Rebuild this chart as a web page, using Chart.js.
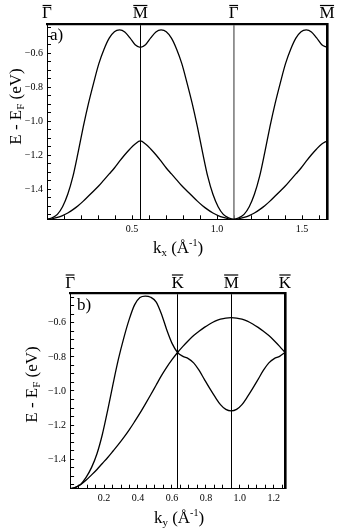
<!DOCTYPE html>
<html><head><meta charset="utf-8">
<script src="https://cdn.jsdelivr.net/npm/chart.js@4.4.1/dist/chart.umd.min.js"></script>
<style>
html,body{margin:0;padding:0;background:#fff;width:338px;height:532px;overflow:hidden}
canvas{position:absolute;left:0}
#ca{top:0}
#cb{top:266px}
</style></head><body>
<canvas id="ca" width="338" height="266"></canvas>
<canvas id="cb" width="338" height="266"></canvas>
<script>
// ---------- Panel a data (k_x, Γ-M-Γ-M) ----------
const kxA = [0,0.0305,0.061,0.0915,0.122,0.1525,0.183,0.2135,0.244,0.2745,0.305,0.3355,0.366,0.3965,0.427,0.4575,0.488,0.5185,0.549,
  0.5795,0.61,0.6405,0.671,0.7015,0.732,0.7625,0.793,0.8235,0.854,0.8845,0.915,0.9455,0.976,1.0065,1.037,1.0675,1.098,
  1.1285,1.159,1.1895,1.22,1.2505,1.281,1.3115,1.342,1.3725,1.403,1.4335,1.464,1.4945,1.525,1.5555,1.586,1.6165,1.647];
const upperA = [-1.577,-1.568,-1.548,-1.503,-1.430,-1.325,-1.183,-1.032,-0.895,-0.774,-0.661,-0.576,-0.511,-0.473,-0.463,-0.475,-0.510,-0.550,-0.565,
  -0.550,-0.510,-0.475,-0.463,-0.473,-0.511,-0.576,-0.661,-0.774,-0.895,-1.032,-1.183,-1.325,-1.430,-1.503,-1.548,-1.568,-1.577,
  -1.568,-1.548,-1.503,-1.430,-1.325,-1.183,-1.032,-0.895,-0.774,-0.661,-0.576,-0.511,-0.473,-0.463,-0.475,-0.510,-0.550,-0.565];
const lowerA = [-1.577,-1.574,-1.566,-1.555,-1.540,-1.520,-1.497,-1.470,-1.440,-1.410,-1.380,-1.345,-1.310,-1.275,-1.235,-1.197,-1.163,-1.134,-1.116,
  -1.134,-1.163,-1.197,-1.235,-1.275,-1.310,-1.345,-1.380,-1.410,-1.440,-1.470,-1.497,-1.520,-1.540,-1.555,-1.566,-1.574,-1.577,
  -1.574,-1.566,-1.555,-1.540,-1.520,-1.497,-1.470,-1.440,-1.410,-1.380,-1.345,-1.310,-1.275,-1.235,-1.197,-1.163,-1.134,-1.116];
const symPosA = [0, 0.549, 1.098, 1.647];
const symLabelsA = ['\u0393', 'M', '\u0393', 'M'];
const xTickValsA = [0.1,0.2,0.3,0.4,0.5,0.6,0.7,0.8,0.9,1.0,1.1,1.2,1.3,1.4,1.5,1.6];
const xLabelValsA = [0.5, 1.0, 1.5];

// ---------- Panel b data (k_y, Γ-K-M-K) ----------
const kyB = [0,0.0317,0.0633,0.095,0.1266,0.1583,0.1899,0.2216,0.2532,0.2849,0.3165,0.3482,0.3798,0.4115,0.4431,0.4748,0.5064,0.5381,0.5697,0.6014,0.633,
  0.6646,0.6962,0.7278,0.7594,0.791,0.8226,0.8542,0.8858,0.9174,0.949,
  0.9807,1.0124,1.0441,1.0758,1.1075,1.1392,1.1709,1.2026,1.2343,1.266];
const band1B = [-1.573,-1.565,-1.546,-1.505,-1.448,-1.368,-1.255,-1.112,-0.958,-0.812,-0.688,-0.580,-0.495,-0.452,-0.443,-0.450,-0.477,-0.548,-0.642,-0.722,-0.774,
  -0.797,-0.810,-0.835,-0.878,-0.932,-0.985,-1.035,-1.080,-1.108,-1.117,
  -1.108,-1.080,-1.035,-0.985,-0.932,-0.878,-0.835,-0.810,-0.797,-0.774];
const band2B = [-1.573,-1.565,-1.548,-1.522,-1.492,-1.460,-1.425,-1.390,-1.352,-1.313,-1.272,-1.228,-1.180,-1.130,-1.077,-1.022,-0.966,-0.910,-0.860,-0.815,-0.774,
  -0.738,-0.705,-0.675,-0.650,-0.627,-0.607,-0.590,-0.579,-0.572,-0.570,
  -0.572,-0.579,-0.590,-0.607,-0.627,-0.650,-0.675,-0.705,-0.738,-0.774];
const symPosB = [0, 0.633, 0.949, 1.266];
const symLabelsB = ['\u0393', 'K', 'M', 'K'];
const xTickValsB = [0.05,0.1,0.15,0.2,0.25,0.3,0.35,0.4,0.45,0.5,0.55,0.6,0.65,0.7,0.75,0.8,0.85,0.9,0.95,1.0,1.05,1.1,1.15,1.2,1.25];
const xLabelValsB = [0.2,0.4,0.6,0.8,1.0,1.2];

// ---------- shared energy ticks ----------
const yTickVals = [-1.55,-1.5,-1.45,-1.4,-1.35,-1.3,-1.25,-1.2,-1.15,-1.1,-1.05,-1.0,-0.95,-0.9,-0.85,-0.8,-0.75,-0.7,-0.65,-0.6,-0.55,-0.5,-0.45];
const yLabelVals = [-1.4,-1.2,-1.0,-0.8,-0.6];

const SERIF = "'Liberation Serif','Times New Roman',serif";
const SYMFONT = 17;
const near = (a,b)=>Math.abs(a-b)<1e-6;
const fmt = v => (v<0?'\u2212':'') + Math.abs(v).toFixed(1);

function drawRich(ctx, segs, cx, cy, rot){
  ctx.save();
  ctx.translate(cx, cy);
  ctx.rotate(rot);
  let w = 0;
  segs.forEach(s=>{ ctx.font = s.size+'px '+SERIF; w += ctx.measureText(s.t).width; });
  let x = -w/2;
  ctx.textAlign='left'; ctx.textBaseline='alphabetic'; ctx.fillStyle='#000';
  segs.forEach(s=>{ ctx.font = s.size+'px '+SERIF; ctx.fillText(s.t, x, s.dy); x += ctx.measureText(s.t).width; });
  ctx.restore();
}

const annot = {
  id:'annot',
  afterDraw(chart, args, o){
    const ctx = chart.ctx;
    ctx.save();
    ctx.fillStyle='#000';
    ctx.font = '17px '+SERIF;
    ctx.textAlign='left'; ctx.textBaseline='alphabetic';
    ctx.fillText(o.letter, o.letterX, o.letterY);
    drawRich(ctx, o.xTitle, o.xTitleX, o.xTitleY, 0);
    drawRich(ctx, o.yTitle, o.yTitleX, o.yTitleY, -Math.PI/2);
    // overbars on the high-symmetry point labels of the top axis
    const top = chart.scales.xTop;
    ctx.font = SYMFONT+'px '+SERIF;
    ctx.strokeStyle='#000'; ctx.lineWidth=1.2;
    top.ticks.forEach((t,i)=>{
      const x = top.getPixelForValue(t.value);
      const w = ctx.measureText(o.symLabels[i]).width;
      ctx.beginPath();
      ctx.moveTo(x - w/2 + 0.5, o.barY);
      ctx.lineTo(x + w/2 - 0.5, o.barY);
      ctx.stroke();
    });
    ctx.restore();
  }
};

function makePanel(canvas, g){
  const W = 338;
  g.annot.symLabels = g.symLabels;
  return new Chart(canvas, {
    type:'line',
    data:{datasets: g.bands.map(b=>({
      data: g.k.map((k,i)=>({x:k, y:b[i]})),
      borderColor:'#000', borderWidth:1.3, pointRadius:0, fill:false,
      cubicInterpolationMode:'monotone'
    }))},
    options:{
      responsive:false, animation:false, devicePixelRatio:1,
      layout:{padding:0},
      plugins:{legend:{display:false}, tooltip:{enabled:false}, annot:g.annot},
      scales:{
        x:{type:'linear', position:'bottom', min:0, max:g.xmax,
          afterBuildTicks:s=>{ s.ticks = g.xTicks.map(v=>({value:v})); },
          ticks:{autoSkip:false, maxRotation:0, padding:8, color:'#000', font:{family:SERIF, size:10},
            callback:v=> g.xLabels.some(l=>near(l,v)) ? v.toFixed(1) : ''},
          grid:{drawOnChartArea:false, tickLength:-4, tickColor:'#000', tickWidth:1},
          border:{color:'#000', width:1},
          afterFit:s=>{ s.height = g.H - g.B; }
        },
        y:{type:'linear', position:'left', min:g.ymin, max:g.ymax,
          afterBuildTicks:s=>{ s.ticks = yTickVals.map(v=>({value:v})); },
          ticks:{autoSkip:false, padding:8, color:'#000', font:{family:SERIF, size:10},
            callback:v=> yLabelVals.some(l=>near(l,v)) ? fmt(v) : ''},
          grid:{drawOnChartArea:false, tickLength:-4, tickColor:'#000', tickWidth:1},
          border:{color:'#000', width:1},
          afterFit:s=>{ s.width = g.L; }
        },
        xTop:{type:'linear', position:'top', min:0, max:g.xmax,
          afterBuildTicks:s=>{ s.ticks = g.sym.map(v=>({value:v})); },
          ticks:{autoSkip:false, maxRotation:0, padding:0, color:'#000', font:{family:SERIF, size:SYMFONT},
            callback:(v,i)=> g.symLabels[i]},
          grid:{drawOnChartArea:true, drawTicks:false,
            color:c=> g.lineColors[c.index] || 'rgba(0,0,0,0)',
            lineWidth:c=> g.lineWidths[c.index] || 0},
          border:{color:'#000', width:2.2},
          afterFit:s=>{ s.height = g.T; }
        },
        yRight:{type:'linear', position:'right', min:g.ymin, max:g.ymax,
          ticks:{display:false}, grid:{display:false},
          border:{color:'#000', width:2.6},
          afterFit:s=>{ s.width = W - g.R; }
        }
      }
    },
    plugins:[annot]
  });
}

makePanel(document.getElementById('ca'), {
  k:kxA, bands:[upperA, lowerA], xmax:1.647, ymin:-1.577, ymax:-0.428,
  L:47, R:327, T:24, B:219.3, H:266,
  xTicks:xTickValsA, xLabels:xLabelValsA, sym:symPosA, symLabels:symLabelsA,
  lineColors:['rgba(0,0,0,0)','#000','#8c8c8c','rgba(0,0,0,0)'], lineWidths:[0,1,1.8,0],
  annot:{letter:'a)', letterX:50, letterY:39.5, barY:5.5,
    xTitle:[{t:'k',size:17,dy:0},{t:'x',size:11,dy:3},{t:' (\u00C5',size:17,dy:0},{t:'-1',size:10,dy:-7},{t:')',size:17,dy:0}],
    xTitleX:178, xTitleY:253,
    yTitle:[{t:'E - E',size:17,dy:0},{t:'F',size:11,dy:3},{t:' (eV)',size:17,dy:0}],
    yTitleX:20.5, yTitleY:106.5}
});

makePanel(document.getElementById('cb'), {
  k:kyB, bands:[band1B, band2B], xmax:1.266, ymin:-1.573, ymax:-0.427,
  L:70.1, R:285, T:27.3, B:222.7, H:266,
  xTicks:xTickValsB, xLabels:xLabelValsB, sym:symPosB, symLabels:symLabelsB,
  lineColors:['rgba(0,0,0,0)','#000','#000','rgba(0,0,0,0)'], lineWidths:[0,1,1,0],
  annot:{letter:'b)', letterX:77, letterY:44, barY:9,
    xTitle:[{t:'k',size:17,dy:0},{t:'y',size:11,dy:3},{t:' (\u00C5',size:17,dy:0},{t:'-1',size:10,dy:-7},{t:')',size:17,dy:0}],
    xTitleX:179, xTitleY:257,
    yTitle:[{t:'E - E',size:17,dy:0},{t:'F',size:11,dy:3},{t:' (eV)',size:17,dy:0}],
    yTitleX:37, yTitleY:118.5}
});
</script>
</body></html>
